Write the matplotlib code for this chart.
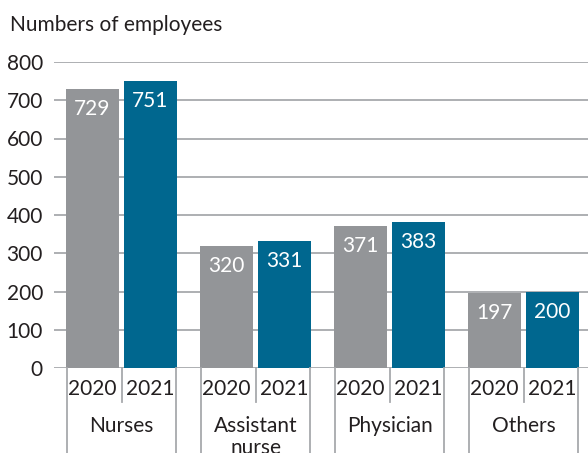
import numpy as np
import matplotlib.pyplot as plt
from matplotlib.lines import Line2D
import matplotlib.transforms as mtransforms

plt.rcParams['font.family'] = ['Lato', 'DejaVu Sans']

categories = ['Nurses', 'Assistant\nnurse', 'Physician', 'Others']
years = ['2020', '2021']
v2020 = [729, 320, 371, 197]
v2021 = [751, 331, 383, 200]

c2020 = '#939598'
c2021 = '#00678f'
grid_c = '#a7a9ac'
txt_c = '#231f20'
fs = 15

W, H = 588, 453
fig = plt.figure(figsize=(W / 100, H / 100), dpi=100)
ax = fig.add_axes([54 / W, (H - 368) / H, 1 - 54 / W, (368 - 62) / H])

x = np.arange(len(categories))
bw = 53 / 134
off = 29 / 134

b1 = ax.bar(x - off, v2020, bw, color=c2020, zorder=3)
b2 = ax.bar(x + off, v2021, bw, color=c2021, zorder=3)

for bars, vals in ((b1, v2020), (b2, v2021)):
    for b, v in zip(bars, vals):
        ax.annotate(str(v), (b.get_x() + b.get_width() / 2, v),
                    xytext=(0, -20), textcoords='offset pixels',
                    ha='center', va='center', color='white', fontsize=fs, zorder=4)

ax.set_xlim(-0.504, 3.481)
ax.set_ylim(0, 800)
ax.set_yticks(range(0, 801, 100))
ax.tick_params(axis='y', length=0, pad=8, labelsize=fs, labelcolor=txt_c)
ax.set_xticks([])
for s in ax.spines.values():
    s.set_visible(False)
ax.yaxis.grid(True, color=grid_c, lw=1.3, zorder=1)
ax.set_axisbelow(True)

# category brackets below the axis
tr = mtransforms.blended_transform_factory(ax.transData, fig.transFigure)
y_axis = (H - 368) / H
y_short = (H - 402) / H
for xi, cat in zip(x, categories):
    for dx in (-0.41, 0.41):
        fig.add_artist(Line2D([xi + dx, xi + dx], [0, y_axis], transform=tr,
                              color=grid_c, lw=1.3))
    fig.add_artist(Line2D([xi, xi], [y_short, y_axis], transform=tr,
                          color=grid_c, lw=1.3))
    for dx, yr in zip((-off, off), years):
        fig.text(xi + dx, (H - 389) / H, yr, transform=tr, ha='center', va='center',
                 fontsize=fs, color=txt_c)
    fig.text(xi, (H - 416) / H, cat, transform=tr, ha='center', va='top',
             fontsize=fs, color=txt_c, linespacing=1.1)

fig.text(10 / W, (H - 25) / H, 'Numbers of employees', ha='left', va='center',
         fontsize=fs, color=txt_c)

fig.savefig('out.png', dpi=100)
